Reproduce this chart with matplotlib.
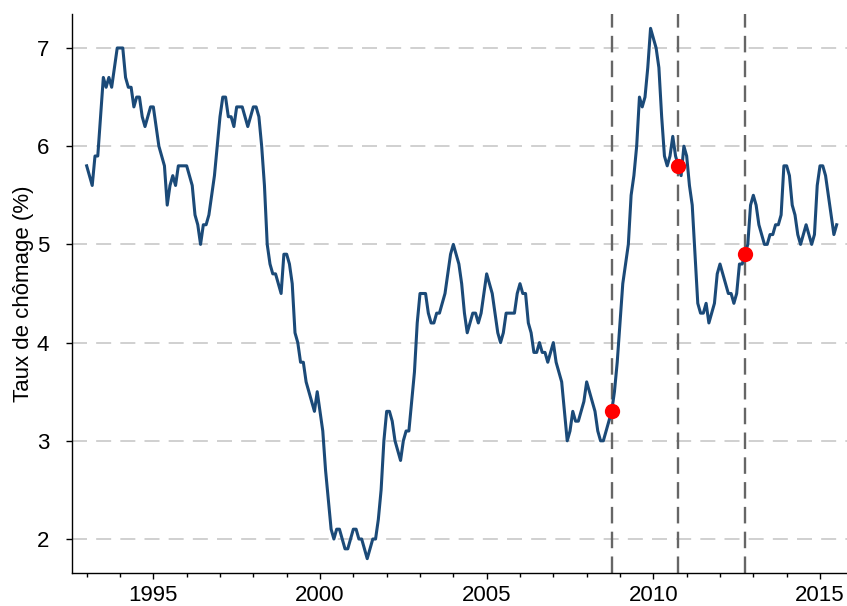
import matplotlib
matplotlib.use("Agg")
import matplotlib.pyplot as plt
import numpy as np
from matplotlib.ticker import MultipleLocator

plt.rcParams['font.family'] = ['Liberation Sans', 'DejaVu Sans']

# Monthly unemployment rate (%), starting January 1993
start_year = 1993
rate = [
    # 1993
    5.8, 5.7, 5.6, 5.9, 5.9, 6.3, 6.7, 6.6, 6.7, 6.6, 6.8, 7.0,
    # 1994
    7.0, 7.0, 6.7, 6.6, 6.6, 6.4, 6.5, 6.5, 6.3, 6.2, 6.3, 6.4,
    # 1995
    6.4, 6.2, 6.0, 5.9, 5.8, 5.4, 5.6, 5.7, 5.6, 5.8, 5.8, 5.8,
    # 1996
    5.8, 5.7, 5.6, 5.3, 5.2, 5.0, 5.2, 5.2, 5.3, 5.5, 5.7, 6.0,
    # 1997
    6.3, 6.5, 6.5, 6.3, 6.3, 6.2, 6.4, 6.4, 6.4, 6.3, 6.2, 6.3,
    # 1998
    6.4, 6.4, 6.3, 6.0, 5.6, 5.0, 4.8, 4.7, 4.7, 4.6, 4.5, 4.9,
    # 1999
    4.9, 4.8, 4.6, 4.1, 4.0, 3.8, 3.8, 3.6, 3.5, 3.4, 3.3, 3.5,
    # 2000
    3.3, 3.1, 2.7, 2.4, 2.1, 2.0, 2.1, 2.1, 2.0, 1.9, 1.9, 2.0,
    # 2001
    2.1, 2.1, 2.0, 2.0, 1.9, 1.8, 1.9, 2.0, 2.0, 2.2, 2.5, 3.0,
    # 2002
    3.3, 3.3, 3.2, 3.0, 2.9, 2.8, 3.0, 3.1, 3.1, 3.4, 3.7, 4.2,
    # 2003
    4.5, 4.5, 4.5, 4.3, 4.2, 4.2, 4.3, 4.3, 4.4, 4.5, 4.7, 4.9,
    # 2004
    5.0, 4.9, 4.8, 4.6, 4.3, 4.1, 4.2, 4.3, 4.3, 4.2, 4.3, 4.5,
    # 2005
    4.7, 4.6, 4.5, 4.3, 4.1, 4.0, 4.1, 4.3, 4.3, 4.3, 4.3, 4.5,
    # 2006
    4.6, 4.5, 4.5, 4.2, 4.1, 3.9, 3.9, 4.0, 3.9, 3.9, 3.8, 3.9,
    # 2007
    4.0, 3.8, 3.7, 3.6, 3.3, 3.0, 3.1, 3.3, 3.2, 3.2, 3.3, 3.4,
    # 2008
    3.6, 3.5, 3.4, 3.3, 3.1, 3.0, 3.0, 3.1, 3.2, 3.3, 3.5, 3.8,
    # 2009
    4.2, 4.6, 4.8, 5.0, 5.5, 5.7, 6.0, 6.5, 6.4, 6.5, 6.8, 7.2,
    # 2010
    7.1, 7.0, 6.8, 6.3, 5.9, 5.8, 5.9, 6.1, 5.9, 5.8, 5.7, 6.0,
    # 2011
    5.9, 5.6, 5.4, 4.9, 4.4, 4.3, 4.3, 4.4, 4.2, 4.3, 4.4, 4.7,
    # 2012
    4.8, 4.7, 4.6, 4.5, 4.5, 4.4, 4.5, 4.8, 4.8, 4.9, 5.0, 5.4,
    # 2013
    5.5, 5.4, 5.2, 5.1, 5.0, 5.0, 5.1, 5.1, 5.2, 5.2, 5.3, 5.8,
    # 2014
    5.8, 5.7, 5.4, 5.3, 5.1, 5.0, 5.1, 5.2, 5.1, 5.0, 5.1, 5.6,
    # 2015
    5.8, 5.8, 5.7, 5.5, 5.3, 5.1, 5.2,
]

# Event months (year, month)
events = [(2008, 10), (2010, 10), (2012, 10)]

y_ticks = [2, 3, 4, 5, 6, 7]
x_major = [1995, 2000, 2005, 2010, 2015]

dates = start_year + np.arange(len(rate)) / 12.0
rate = np.array(rate)

fig = plt.figure(figsize=(8.47, 6.06), dpi=100)
W, H = 847, 606
ax = fig.add_axes([72 / W, (H - 572.7) / H, (W - 72) / W, (572.7 - 14) / H])

ax.set_xlim(1992.56, 2015.81)
ax.set_ylim(1.657, 7.346)

# horizontal grid
for yt in y_ticks:
    ax.axhline(yt, color='#c8c8c8', lw=1.2, dashes=(9, 5.5), zorder=1)

ax.plot(dates, rate, color='#1b4a78', lw=2.2, zorder=3, solid_joinstyle='round')

for (yr, mo) in events:
    idx = (yr - start_year) * 12 + (mo - 1)
    xd = dates[idx]
    ax.axvline(xd, color='#666666', lw=1.7, dashes=(7, 3.5), zorder=2)
    ax.plot([xd], [rate[idx]], 'o', color='#ff0000', ms=11, mec='none', zorder=4)

ax.set_yticks(y_ticks)
ax.set_yticklabels([str(v) for v in y_ticks])
ax.set_xticks(x_major)
ax.set_xticklabels([str(v) for v in x_major])
ax.xaxis.set_minor_locator(MultipleLocator(1))

for s in ['top', 'right']:
    ax.spines[s].set_visible(False)
for s in ['left', 'bottom']:
    ax.spines[s].set_linewidth(1.0)
    ax.spines[s].set_color('black')

ax.tick_params(axis='x', which='major', direction='out', length=4.5, width=1.0, labelsize=16, pad=4)
ax.tick_params(axis='x', which='minor', direction='out', length=3.2, width=1.0)
ax.tick_params(axis='y', which='major', direction='out', length=4.5, width=1.0, labelsize=16, pad=12)

ax.set_ylabel('Taux de chômage (%)', fontsize=16, labelpad=2)

fig.savefig('out.png', dpi=100)
